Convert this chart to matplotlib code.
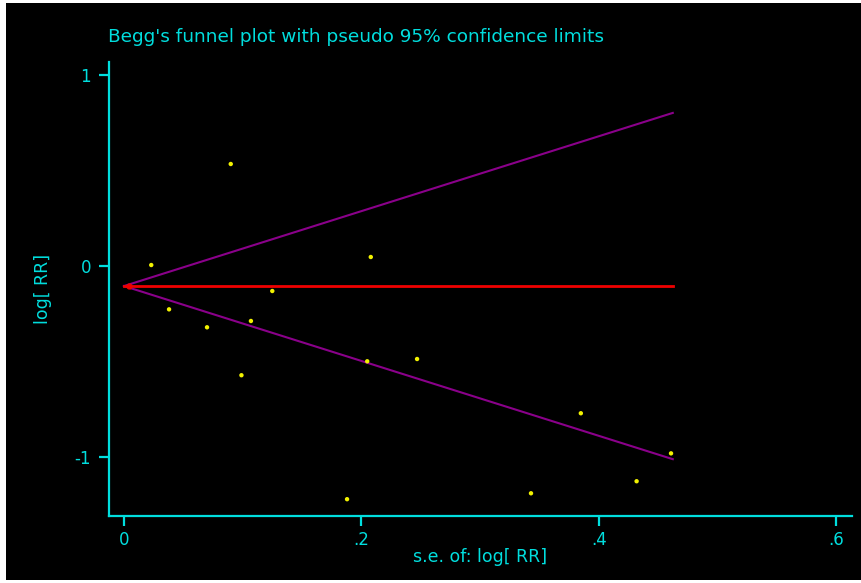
import numpy as np
import matplotlib
matplotlib.use("Agg")
import matplotlib.pyplot as plt

# Data
se_vals = [0.023, 0.090, 0.038, 0.070, 0.099, 0.107, 0.125, 0.188, 0.205, 0.208,
           0.247, 0.343, 0.385, 0.432, 0.461]
logrr_vals = [0.005, 0.534, -0.227, -0.321, -0.572, -0.288, -0.131, -1.221, -0.499, 0.047,
              -0.487, -1.190, -0.771, -1.127, -0.981]
pooled = -0.105
se_max = 0.4625
xticks = [0, 0.2, 0.4, 0.6]
xticklabels = ["0", ".2", ".4", ".6"]
yticks = [-1, 0, 1]
yticklabels = ["-1", "0", "1"]

CYAN = "#00dede"
W, H = 862, 583
fig = plt.figure(figsize=(W / 100, H / 100), dpi=100, facecolor="white")

bg = fig.add_axes([6 / W, 3 / H, 1 - 6 / W, 1 - 6 / H], zorder=0)
bg.set_facecolor("black")
bg.set_xticks([])
bg.set_yticks([])
for s in bg.spines.values():
    s.set_visible(False)

ax = fig.add_axes([109 / W, 1 - 516 / H, (852 - 109) / W, (516 - 62) / H], zorder=1)
ax.patch.set_alpha(0)
ax.set_xlim(-0.0126, 0.6135)
ax.set_ylim(-1.309, 1.068)

se_line = np.array([0.0, se_max])
ax.plot(se_line, pooled + 1.96 * se_line, color="#8a008a", lw=1.5, zorder=2)
ax.plot(se_line, pooled - 1.96 * se_line, color="#8a008a", lw=1.5, zorder=2)
ax.plot(se_line, [pooled, pooled], color="#ee0000", lw=2, zorder=3)
ax.plot([0.004], [pooled], marker="o", color="#ee0000", markersize=3.5, zorder=3)

ax.scatter(se_vals, logrr_vals, s=10, color="#f2f200", edgecolors="none", zorder=4)

for side in ["top", "right"]:
    ax.spines[side].set_visible(False)
for side in ["left", "bottom"]:
    ax.spines[side].set_color(CYAN)
    ax.spines[side].set_linewidth(1.6)

ax.set_xticks(xticks)
ax.set_xticklabels(xticklabels)
ax.set_yticks(yticks)
ax.set_yticklabels(yticklabels)
ax.tick_params(axis="both", colors=CYAN, direction="out", length=7, width=1.6,
               labelsize=12, labelcolor=CYAN)
ax.tick_params(axis="y", pad=6)
ax.tick_params(axis="x", pad=4)

ax.set_xlabel("s.e. of: log[ RR]", color=CYAN, fontsize=12.5, labelpad=-1)
ax.set_ylabel("log[ RR]", color=CYAN, fontsize=12.5, labelpad=16)

fig.text(108 / W, 1 - 37 / H, "Begg's funnel plot with pseudo 95% confidence limits",
         color=CYAN, fontsize=13.3, ha="left", va="center")

fig.savefig("out.png", dpi=100, facecolor="white")
